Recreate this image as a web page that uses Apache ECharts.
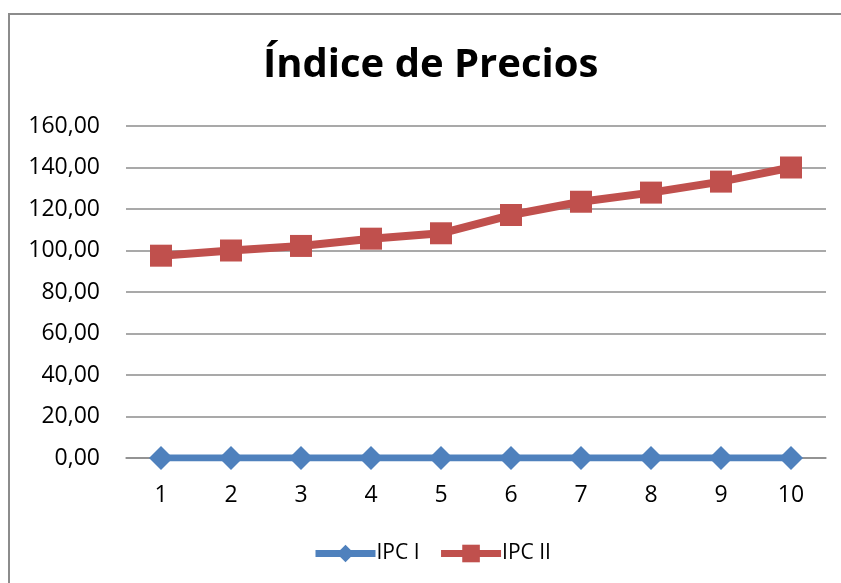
<!DOCTYPE html>
<html>
<head>
<meta charset="utf-8">
<script src="https://cdn.jsdelivr.net/npm/echarts@6/dist/echarts.min.js"></script>
<style>
  html, body { margin: 0; padding: 0; background: #fff; }
  #frame { position: absolute; left: 8px; top: 13px; width: 900px; height: 700px; border: 2px solid #8c8c8c; box-sizing: border-box; }
  #main { position: absolute; left: 0; top: 0; width: 841px; height: 583px; }
</style>
</head>
<body>
<div id="frame"></div>
<div id="main"></div>
<script>
// datos del gráfico
const categorias = ['1', '2', '3', '4', '5', '6', '7', '8', '9', '10']
const ipcI = [0, 0, 0, 0, 0, 0, 0, 0, 0, 0]
const ipcII = [97.5, 100, 102.2, 105.7, 108.3, 117.1, 123.5, 127.9, 133.2, 140]
const ejeY = { min: 0, max: 160, interval: 20 }

const fuente = '"Open Sans", "Liberation Sans", sans-serif'

const myChart = echarts.init(document.getElementById('main'))
const option = {
  backgroundColor: 'transparent',
  textStyle: { fontFamily: fuente },
  title: {
    text: 'Índice de Precios',
    left: 258,
    top: 41,
    textStyle: { fontSize: 40, fontWeight: 'bold', color: '#000', fontFamily: fuente }
  },
  legend: {
    top: 538,
    left: 307,
    itemWidth: 60,
    itemHeight: 22,
    itemGap: 18,
    textStyle: { fontSize: 21, color: '#000', padding: [0, 0, 0, -4] },
    data: [
      { name: 'IPC I', lineStyle: { width: 7 } },
      { name: 'IPC II', lineStyle: { width: 7 } }
    ]
  },
  grid: { left: 126, right: 15, top: 126, bottom: 125 },
  xAxis: {
    type: 'category',
    data: categorias,
    boundaryGap: true,
    axisLine: { lineStyle: { color: '#8c8c8c', width: 1.5 } },
    axisTick: { show: false },
    axisLabel: { fontSize: 23, color: '#000', margin: 26 }
  },
  yAxis: {
    type: 'value',
    min: ejeY.min,
    max: ejeY.max,
    interval: ejeY.interval,
    axisLine: { show: false },
    axisTick: { show: false },
    splitLine: { lineStyle: { color: '#8c8c8c', width: 1.5 } },
    axisLabel: {
      fontSize: 23,
      color: '#000',
      margin: 26,
      formatter: v => v.toFixed(2).replace('.', ',')
    }
  },
  series: [
    {
      name: 'IPC I',
      type: 'line',
      data: ipcI,
      symbol: 'diamond',
      symbolSize: 24,
      lineStyle: { color: '#4F81BD', width: 7 },
      itemStyle: { color: '#4F81BD' },
      z: 2
    },
    {
      name: 'IPC II',
      type: 'line',
      data: ipcII,
      symbol: 'rect',
      symbolSize: 22,
      lineStyle: { color: '#C0504D', width: 8 },
      itemStyle: { color: '#C0504D' },
      z: 3
    }
  ]
}
myChart.setOption(option)
</script>
</body>
</html>
